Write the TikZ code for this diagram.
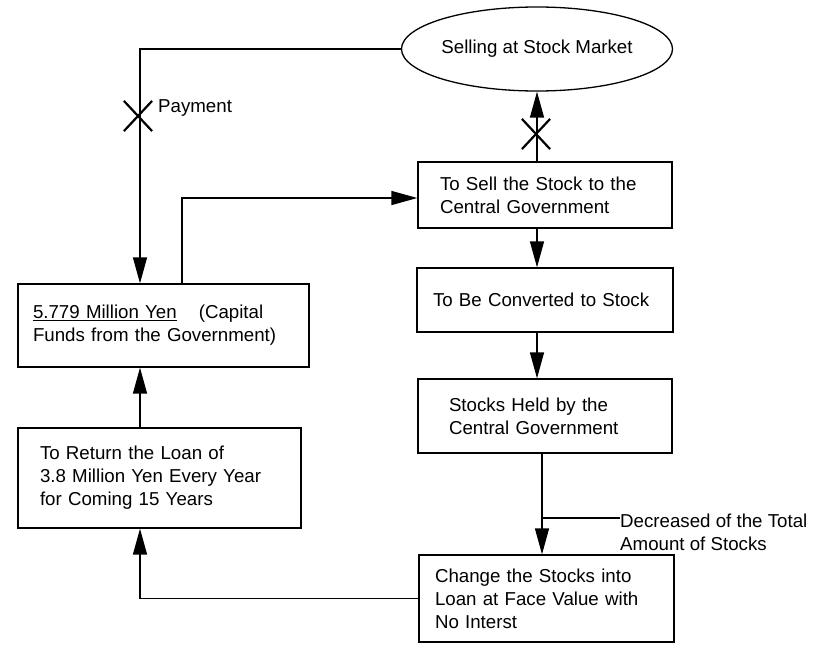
\documentclass[tikz,border=0pt]{standalone}
\usepackage{fontspec}
\setmainfont{Liberation Sans}
\usetikzlibrary{arrows.meta,shapes.geometric,shapes.misc}
\begin{document}
\begin{tikzpicture}[x=1pt,y=-1pt,
  every node/.style={font=\fontsize{18.7}{23}\selectfont},
  box/.style={draw, rectangle, line width=1.3pt, align=left, inner ysep=0pt},
  link/.style={line width=1.4pt},
  arr/.style={line width=1.4pt, -{Triangle[length=26pt,width=14pt]}},
  xmark/.style={draw, cross out, line width=2.2pt, minimum width=26pt, minimum height=28pt, inner sep=0pt}
]
\useasboundingbox (0,0) rectangle (816,645);
% nodes
\node[draw, ellipse, line width=1.3pt, minimum width=271pt, minimum height=84pt, inner sep=0pt] (ell) at (537,49) {Selling at Stock Market};
\node[box, minimum width=254pt, minimum height=66pt, inner xsep=22pt, text width=210pt] (sell) at (545,195) {To Sell the Stock to the\\Central Government};
\node[box, minimum width=256pt, minimum height=64pt, inner xsep=16pt, text width=224pt] (conv) at (545,300) {To Be Converted to Stock};
\node[box, minimum width=254pt, minimum height=74pt, inner xsep=31pt, text width=192pt] (held) at (545,416) {Stocks Held by the\\Central Government};
\node[box, minimum width=255pt, minimum height=87pt, inner xsep=16pt, text width=223pt] (chg) at (546.5,598.5) {Change the Stocks into\\Loan at Face Value with\\No Interst};
\node[box, minimum width=291pt, minimum height=83pt, inner xsep=15pt, text width=261pt] (cap) at (163.5,325.5) {\underline{5.779 Million Yen}\hspace{22pt}(Capital\\Funds from the Government)};
\node[box, minimum width=283pt, minimum height=100pt, inner xsep=22pt, text width=239pt] (ret) at (159.5,478) {To Return the Loan of\\3.8 Million Yen Every Year\\for Coming 15 Years};
\node[anchor=west, align=left, inner sep=0pt] (dec) at (620,532) {Decreased of the Total\\Amount of Stocks};
\node[anchor=west, inner sep=0pt] (pay) at (158,108) {Payment};
% helper coordinates
\coordinate (c1) at (140,49);
\coordinate (c2) at (182,198);
\coordinate (lead) at (542,518);
% connectors
\draw[arr] (ell.west) -- (c1) -- (cap.north -| c1);
\draw[arr] (cap.north -| c2) -- (c2) -- (sell.west |- c2);
\draw[arr] (sell.north -| ell.south) -- (ell.south);
\draw[arr] (sell.south -| ell.south) -- (conv.north -| ell.south);
\draw[arr] (conv.south -| ell.south) -- (held.north -| ell.south);
\draw[arr] (held.south -| lead) -- (chg.north -| lead);
\draw[link] (lead) -- (lead -| dec.west);
\draw[arr] (chg.west) -- (chg.west -| c1) -- (ret.south -| c1);
\draw[arr] (ret.north -| c1) -- (cap.south -| c1);
% crosses
\node[xmark] (x1) at (138,116) {};
\node[xmark] (x2) at (536,134) {};
\end{tikzpicture}
\end{document}
